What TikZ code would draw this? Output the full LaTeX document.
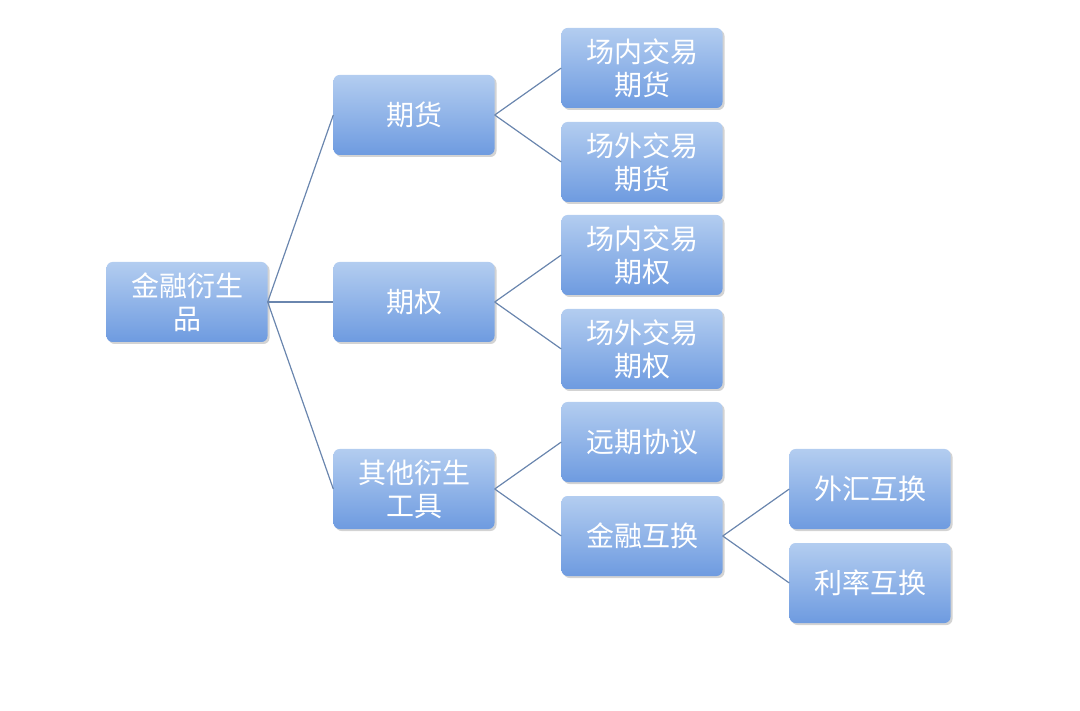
\documentclass[tikz,border=0pt]{standalone}
\usepackage{fontspec}
\setmainfont{Noto Sans CJK SC}
\usetikzlibrary{shadows}
\definecolor{topc}{HTML}{B3CDF0}
\definecolor{botc}{HTML}{6E9BE0}
\definecolor{linec}{HTML}{6A86AE}
\tikzset{
  box/.style={rounded corners=6pt, minimum width=161pt, minimum height=80pt,
    top color=topc, bottom color=botc, draw=none, text=white, align=center,
    font=\fontsize{28}{33}\selectfont, inner sep=0pt,
    drop shadow={opacity=0.35, shadow xshift=2pt, shadow yshift=-2pt}},
  conn/.style={draw=linec, line width=1.2pt}
}
\begin{document}
\begin{tikzpicture}[x=1pt,y=-1pt]
\useasboundingbox (0,0) rectangle (1080,711);
\node[box] (root) at (187,302) {金融衍生\\品};
\node[box] (qh) at (414,115) {期货};
\node[box] (qq) at (414,302) {期权};
\node[box] (qt) at (414,489) {其他衍生\\工具};
\node[box] (a1) at (642,68) {场内交易\\期货};
\node[box] (a2) at (642,162) {场外交易\\期货};
\node[box] (b1) at (642,255) {场内交易\\期权};
\node[box] (b2) at (642,349) {场外交易\\期权};
\node[box] (c1) at (642,442) {远期协议};
\node[box] (c2) at (642,536) {金融互换};
\node[box] (d1) at (870,489) {外汇互换};
\node[box] (d2) at (870,583) {利率互换};
\foreach \p/\c in {root/qh,root/qq,root/qt,qh/a1,qh/a2,qq/b1,qq/b2,qt/c1,qt/c2,c2/d1,c2/d2}
  \draw[conn] (\p.east) -- (\c.west);
\end{tikzpicture}
\end{document}
